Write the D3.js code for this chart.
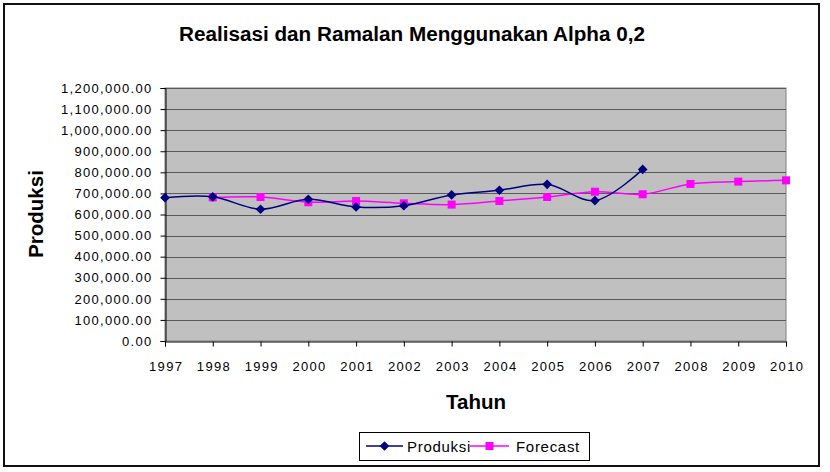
<!DOCTYPE html>
<html><head><meta charset="utf-8">
<script src="https://cdn.jsdelivr.net/npm/d3@7"></script>
<style>body{margin:0;background:#fff}svg{display:block}text{font-family:Arial,"Liberation Sans",sans-serif}</style>
</head><body><svg id="c" width="830" height="472"></svg>
<script>
const years = [1997,1998,1999,2000,2001,2002,2003,2004,2005,2006,2007,2008,2009,2010];
const produksi = [680000,684000,625000,672000,636000,642000,693000,715000,743000,666000,814000,null,null,null];
const forecast = [null,681000,683000,658000,664000,653000,647000,664000,683000,708000,696000,745000,756000,762000];
const yTicks = [0,100000,200000,300000,400000,500000,600000,700000,800000,900000,1000000,1100000,1200000];

const svg = d3.select("#c");
const L=165,R=786,T=88,B=341;
const x = d3.scalePoint().domain(years).range([L,R]);
const y = d3.scaleLinear().domain([0,1200000]).range([B,T]);

svg.append("rect").attr("x",4).attr("y",4).attr("width",815).attr("height",462).attr("fill","#fff").attr("stroke","#111").attr("stroke-width",2);

svg.append("rect").attr("x",L).attr("y",T).attr("width",R-L).attr("height",B-T).attr("fill","#C0C0C0").attr("stroke","#808080").attr("stroke-width",1);
svg.append("g").selectAll("line").data(yTicks.slice(1)).join("line")
  .attr("x1",L).attr("x2",R).attr("y1",d=>Math.round(y(d))+0.5).attr("y2",d=>Math.round(y(d))+0.5)
  .attr("stroke","#5a5a5a").attr("stroke-width",1);

const fmt = d3.format(",.2f");
const ya = svg.append("g").attr("transform",`translate(${L+0.5},0)`)
  .call(d3.axisLeft(y).tickValues(yTicks).tickFormat(fmt).tickSize(5).tickPadding(8));
ya.select(".domain").attr("stroke","#000");
ya.selectAll(".tick line").attr("stroke","#000");
ya.selectAll("text").attr("font-size","13px").attr("fill","#000").style("letter-spacing","1.3px");

const xa = svg.append("g").attr("transform",`translate(0,${B+0.5})`)
  .call(d3.axisBottom(x).tickSize(5).tickPadding(15));
xa.select(".domain").attr("stroke","#000");
xa.selectAll(".tick line").attr("stroke","#000");
xa.selectAll("text").attr("font-size","13px").attr("fill","#000").style("letter-spacing","1.3px").attr("dx","0.65px");

const curve = d3.curveCatmullRom.alpha(0.5);
const lineP = d3.line().defined(d=>d.v!=null).x(d=>x(d.y)).y(d=>y(d.v)).curve(curve);
const pd = years.map((yr,i)=>({y:yr,v:produksi[i]}));
const fd = years.map((yr,i)=>({y:yr,v:forecast[i]}));

svg.append("path").datum(fd).attr("d",lineP).attr("fill","none").attr("stroke","#FF00FF").attr("stroke-width",1.5);
svg.append("path").datum(pd).attr("d",lineP).attr("fill","none").attr("stroke","#000080").attr("stroke-width",1.5);

svg.append("g").selectAll("rect").data(fd.filter(d=>d.v!=null)).join("rect")
  .attr("x",d=>x(d.y)-4).attr("y",d=>y(d.v)-4).attr("width",8).attr("height",8).attr("fill","#FF00FF");
const diamond = d3.symbol().type(d3.symbolDiamond2).size(60);
svg.append("g").selectAll("path").data(pd.filter(d=>d.v!=null)).join("path")
  .attr("transform",d=>`translate(${x(d.y)},${y(d.v)})`).attr("d",diamond).attr("fill","#000080");

svg.append("text").attr("x",412).attr("y",41).attr("text-anchor","middle").attr("font-size","20.7px").attr("font-weight","bold").text("Realisasi dan Ramalan Menggunakan Alpha 0,2");
svg.append("text").attr("x",476).attr("y",409).attr("text-anchor","middle").attr("font-size","20.5px").attr("font-weight","bold").text("Tahun");
svg.append("text").attr("transform","translate(43,214) rotate(-90)").attr("text-anchor","middle").attr("font-size","20.5px").attr("font-weight","bold").text("Produksi");

const lg = svg.append("g");
lg.append("rect").attr("x",359.5).attr("y",432.5).attr("width",230).attr("height",28).attr("fill","#fff").attr("stroke","#000");
lg.append("line").attr("x1",366).attr("x2",403).attr("y1",446).attr("y2",446).attr("stroke","#000080").attr("stroke-width",1.5);
lg.append("path").attr("transform","translate(384.5,446)").attr("d",diamond).attr("fill","#000080");
lg.append("text").attr("x",407).attr("y",451.5).attr("font-size","15px").style("letter-spacing","0.7px").text("Produksi");
lg.append("line").attr("x1",470).attr("x2",509).attr("y1",446).attr("y2",446).attr("stroke","#FF00FF").attr("stroke-width",1.5);
lg.append("rect").attr("x",485.5).attr("y",442).attr("width",8).attr("height",8).attr("fill","#FF00FF");
lg.append("text").attr("x",516).attr("y",451.5).attr("font-size","15px").style("letter-spacing","0.7px").text("Forecast");
</script></body></html>
